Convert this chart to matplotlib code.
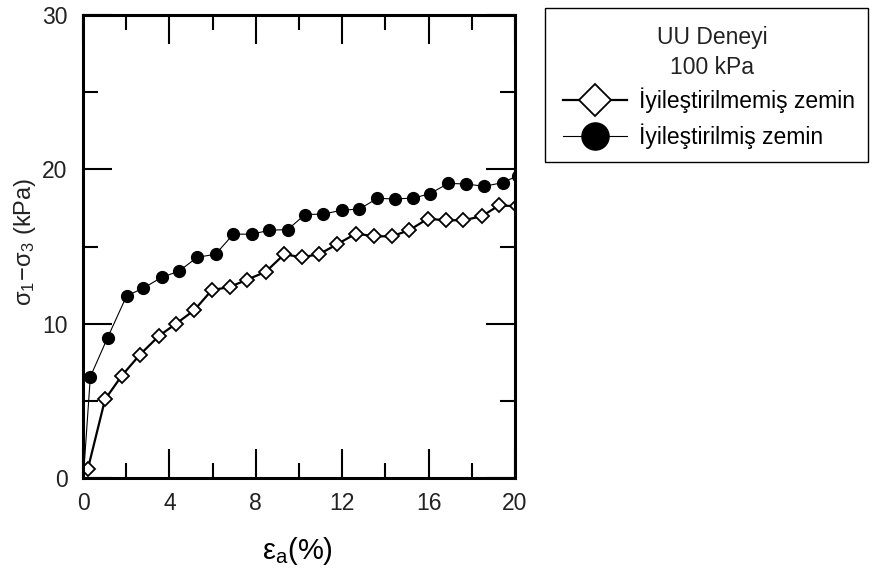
import numpy as np
import matplotlib
matplotlib.use("Agg")
import matplotlib.pyplot as plt
from matplotlib.patches import Rectangle
from matplotlib.ticker import MultipleLocator

plt.rcParams['font.family'] = ['Liberation Sans', 'DejaVu Sans']

# strain (%) and deviator stress (kPa)
eps_untreated = [0.22, 1.02, 1.79, 2.64, 3.52, 4.31, 5.15, 5.96, 6.80, 7.61,
                 8.46, 9.32, 10.12, 10.93, 11.77, 12.64, 13.47, 14.29, 15.10,
                 15.96, 16.79, 17.61, 18.46, 19.27, 20.10]
q_untreated = [0.56, 5.09, 6.62, 8.00, 9.21, 10.00, 10.87, 12.17, 12.38, 12.86,
               13.36, 14.50, 14.30, 14.50, 15.15, 15.84, 15.66, 15.66, 16.05,
               16.80, 16.70, 16.70, 16.96, 17.67, 17.60]

eps_treated = [0.05, 0.34, 1.14, 2.02, 2.79, 3.64, 4.44, 5.29, 6.14, 6.96,
               7.81, 8.63, 9.48, 10.28, 11.13, 11.97, 12.80, 13.63, 14.44,
               15.30, 16.06, 16.91, 17.73, 18.58, 19.43, 20.15]
q_treated = [0.70, 6.56, 9.10, 11.80, 12.30, 13.00, 13.40, 14.30, 14.50, 15.80,
             15.80, 16.05, 16.10, 17.07, 17.10, 17.35, 17.43, 18.12, 18.08,
             18.14, 18.42, 19.09, 19.05, 18.90, 19.14, 19.60]

lbl_untreated = 'İyileştirilmemiş zemin'
lbl_treated = 'İyileştirilmiş zemin'
legend_title = 'UU Deneyi\n100 kPa'

W, H = 874, 572
fig = plt.figure(figsize=(W/100, H/100), dpi=100)
ax = fig.add_axes([83/W, 1-478/H, (515-83)/W, (478-15)/H])

ax.plot(eps_untreated, q_untreated, '-', color='black', lw=1.6,
        marker='D', ms=7, mfc='white', mec='black', mew=1.3,
        label=lbl_untreated)
ax.plot(eps_treated, q_treated, '-', color='black', lw=0.8,
        marker='o', ms=8.5, mfc='black', mec='black',
        markevery=slice(1, None), label=lbl_treated)

ax.set_xlim(0, 20)
ax.set_ylim(0, 30)
ax.xaxis.set_major_locator(MultipleLocator(4))
ax.xaxis.set_minor_locator(MultipleLocator(2))
ax.yaxis.set_major_locator(MultipleLocator(10))
ax.yaxis.set_minor_locator(MultipleLocator(5))
ax.tick_params(which='both', direction='in', top=True, right=True,
               width=1.5, color='black', labelsize=16.5, labelcolor='#222222')
ax.tick_params(axis='x', which='major', length=21, pad=10)
ax.tick_params(axis='y', which='major', length=21, pad=11)
ax.tick_params(which='minor', length=11)
for sp in ax.spines.values():
    sp.set_linewidth(2.2)

ax.set_xlabel(r'$\mathregular{\epsilon_a}$(%)', fontsize=21)
ax.xaxis.set_label_coords((297-83)/432, -(535-478)/463, transform=ax.transAxes)
ax.set_ylabel(r'$\mathregular{\sigma_1\!-\!\sigma_3}$ (kPa)', fontsize=17,
              color='#222222')
ax.yaxis.set_label_coords(-(83-38)/432, (478-242)/463, transform=ax.transAxes)

# legend box, title and entries
fig.patches.append(Rectangle((545/W, 1-162/H), (868-545)/W, (162-8)/H,
                             transform=fig.transFigure, fill=False,
                             edgecolor='black', lw=1.0))
fig.text(712/W, 1-52.5/H, legend_title, ha='center', va='center',
         fontsize=16.5, linespacing=1.35, color='#222222')
leg = fig.legend(loc='center left', bbox_to_anchor=(563/W, 1-118/H),
                 borderaxespad=0, borderpad=0, frameon=False,
                 fontsize=16.5, markerscale=2.3,
                 handlelength=2.8, handletextpad=0.5, labelspacing=0.45)

fig.savefig('out.png', dpi=100)
